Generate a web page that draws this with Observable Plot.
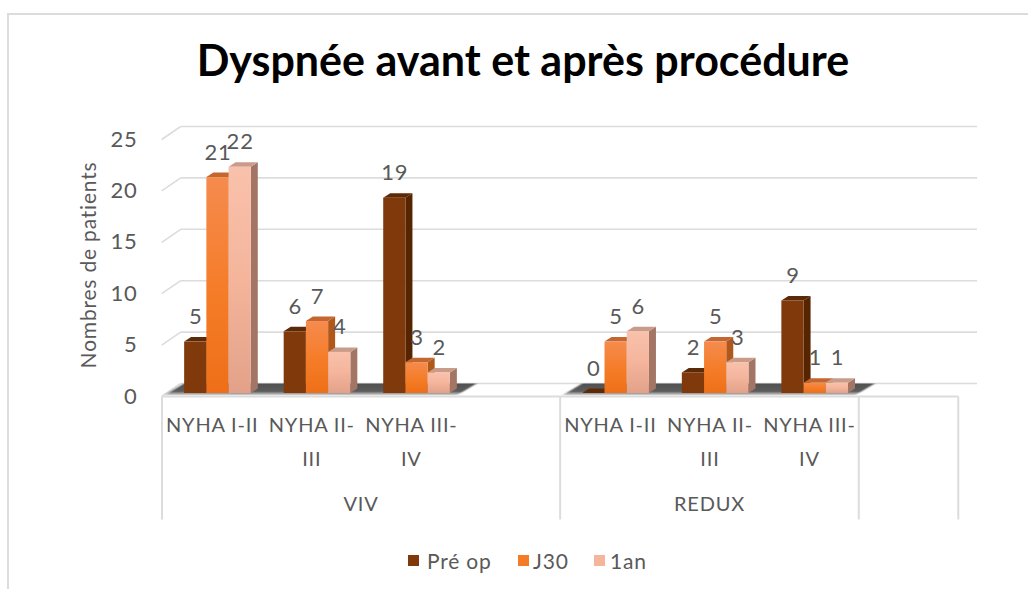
<!DOCTYPE html>
<html><head><meta charset="utf-8">
<script src="https://cdn.jsdelivr.net/npm/d3@7"></script>
<script src="https://cdn.jsdelivr.net/npm/@observablehq/plot@0.6"></script>
<style>
html,body{margin:0;padding:0;background:#fff;overflow:hidden}
#page{position:relative;width:1028px;height:589px;font-family:Lato,sans-serif}
#border{position:absolute;left:7px;top:13px;right:-10px;bottom:-10px;border:2px solid #dcdcdc}
#title{position:relative;height:100px;line-height:120px;text-align:center;font-weight:700;font-size:43px;color:#000;width:1046px;white-space:nowrap}
#chart{position:relative;height:430px}
#chart svg{display:block;overflow:visible}
#legend{position:relative;height:59px;color:#595959;font-size:21px;letter-spacing:.8px}
#legend span{position:absolute;top:20px;line-height:22px;white-space:pre}
#legend i{position:absolute;top:25px;width:11px;height:11px}
</style></head>
<body>
<svg width="0" height="0" style="position:absolute">
<defs>
<linearGradient id="g0" x1="0" y1="0" x2="0" y2="1"><stop offset="0" stop-color="#7f390b"/><stop offset="1" stop-color="#7f390b"/></linearGradient>
<linearGradient id="g1" x1="0" y1="0" x2="0" y2="1"><stop offset="0" stop-color="#f58b4e"/><stop offset=".55" stop-color="#f57c27"/><stop offset="1" stop-color="#ee6f18"/></linearGradient>
<linearGradient id="g2" x1="0" y1="0" x2="0" y2="1"><stop offset="0" stop-color="#f9c1ab"/><stop offset=".5" stop-color="#f4b59c"/><stop offset="1" stop-color="#e3a18a"/></linearGradient>
<linearGradient id="floorFill" x1="0" y1="0" x2="0" y2="1"><stop offset="0" stop-color="#4f4f4f"/><stop offset=".65" stop-color="#5c5c5c"/><stop offset="1" stop-color="#e4e4e4"/></linearGradient>
<filter id="soft" x="-5%" y="-30%" width="110%" height="160%"><feGaussianBlur stdDeviation="1.4 .6"/></filter>
</defs></svg>
<div id="page">
<div id="border"></div>
<div id="title"></div>
<div id="chart"></div>
<div id="legend"></div>
</div>
<script>
const titleText = "Dyspnée avant et après procédure";
const yTitle = "Nombres de patients";
const seriesNames = ["Pré op", "J30", "1an"];
const seriesFills = ["url(#g0)", "url(#g1)", "url(#g2)"];
const seriesSwatch = ["#7f390b", "#f57c27", "#f4b59c"];
const sideColors = ["#562500", "#b0571a", "#a37565"];
const topColors = ["#5c2a06", "#c4662f", "#c99c8a"];
const yTicks = [0, 5, 10, 15, 20, 25];
const slots = ["VIV-1","VIV-2","VIV-3","VIV-gap","REDUX-1","REDUX-2","REDUX-3","end-gap"];
const barSlots = ["VIV-1","VIV-2","VIV-3","REDUX-1","REDUX-2","REDUX-3"];
const slotLabels = ["NYHA I-II","NYHA II-\nIII","NYHA III-\nIV","NYHA I-II","NYHA II-\nIII","NYHA III-\nIV"];
const preOp = [5, 6, 19, 0, 2, 9];
const j30 = [21, 7, 3, 5, 5, 1];
const oneYear = [22, 4, 2, 6, 3, 1];
const groups = [
  {name: "VIV", from: "VIV-1", to: "VIV-gap", last: "VIV-3"},
  {name: "REDUX", from: "REDUX-1", to: "REDUX-3", last: "REDUX-3"}
];

document.getElementById("title").textContent = titleText;

const rows = barSlots.flatMap((slot, i) => [
  {slot, series: seriesNames[0], value: preOp[i]},
  {slot, series: seriesNames[1], value: j30[i]},
  {slot, series: seriesNames[2], value: oneYear[i]}
]);
const labelRows = barSlots.map((slot, i) => ({slot, label: slotLabels[i]}));
const firstSlot = () => slots[0];

const grey = "#dcdcdc", textGrey = "#595959", font = "Lato, sans-serif";
const NS = "http://www.w3.org/2000/svg";
function el(doc, name, attrs) {
  const n = doc.createElementNS(NS, name);
  for (const k in attrs) n.setAttribute(k, attrs[k]);
  return n;
}
const depth = {dx: 7, dy: 4.5};

function bars3d(index, scales, values, dims, context, next) {
  const g = next(index, scales, values, dims, context);
  const doc = context.document;
  const rects = [...g.querySelectorAll("rect")];
  rects.forEach((r, k) => {
    const i = seriesNames.indexOf(rows[index[k]].series);
    const x = +r.getAttribute("x"), y = +r.getAttribute("y");
    const w = +r.getAttribute("width"), h = +r.getAttribute("height");
    const side = `${x+w},${y} ${x+w+depth.dx},${y-depth.dy} ${x+w+depth.dx},${y+h-depth.dy} ${x+w},${y+h}`;
    const top = `${x},${y} ${x+depth.dx},${y-depth.dy} ${x+w+depth.dx},${y-depth.dy} ${x+w},${y}`;
    r.parentNode.insertBefore(el(doc, "polygon", {points: side, fill: sideColors[i]}), r);
    r.parentNode.insertBefore(el(doc, "polygon", {points: top, fill: topColors[i]}), r);
  });
  return g;
}

function wall(index, scales, values, dims, context, next) {
  const g = next(index, scales, values, dims, context);
  const doc = context.document;
  const full = scales.fx.bandwidth() * slots.length;
  for (const line of [...g.querySelectorAll("line")]) {
    const x = +line.getAttribute("x1"), y = +line.getAttribute("y1");
    line.setAttribute("x2", x + full);
    line.parentNode.appendChild(el(doc, "line", {x1: x - 19, y1: y + 13, x2: x, y2: y, stroke: grey, "stroke-width": 1.6}));
  }
  return g;
}

function furniture(index, scales, values, dims, context, next) {
  const g = next(index, scales, values, dims, context);
  const doc = context.document;
  const bw = scales.fx.bandwidth();
  const fx = scales.fx;
  const full = bw * slots.length;
  for (const line of [...g.querySelectorAll("line")]) {
    line.setAttribute("x2", +line.getAttribute("x1") + full);
  }
  const y0 = scales.y(0);
  const edges = [fx("VIV-1"), fx("REDUX-1"), fx("end-gap"), fx("end-gap") + bw];
  for (const x of edges) g.appendChild(el(doc, "line", {x1: x, x2: x, y1: y0, y2: y0 + 123, stroke: grey, "stroke-width": 2}));
  for (const gr of groups) {
    const a = fx(gr.from), b = fx(gr.to) + bw, l = fx(gr.last) + bw;
    const t = el(doc, "text", {x: (a + b) / 2, y: y0 + 114, "text-anchor": "middle", fill: textGrey, stroke: "none", "font-family": font, "font-size": 20});
    t.textContent = gr.name;
    g.appendChild(t);
    const pts = `${a + 22},${y0 - 13} ${l + 16},${y0 - 13} ${l - 4},${y0 - 1} ${a + 2},${y0 - 1}`;
    g.appendChild(el(doc, "polygon", {points: pts, fill: "url(#floorFill)", stroke: "none", filter: "url(#soft)"}));
  }
  return g;
}

const chart = Plot.plot({
  width: 1028, height: 430,
  marginLeft: 167.7, marginRight: 64, marginTop: 36, marginBottom: 137,
  style: {background: "transparent", fontFamily: font, overflow: "visible", letterSpacing: ".8px"},
  fx: {domain: slots, padding: 0, axis: null, round: false, label: null},
  x: {domain: seriesNames, axis: null, paddingInner: 0, paddingOuter: 0.74, round: false, label: null},
  y: {domain: [0, 25], axis: null, label: null},
  color: {domain: seriesNames, range: seriesFills},
  marks: [
    Plot.ruleY(yTicks, {fx: firstSlot, y: d => d, stroke: grey, strokeWidth: 1.6, dx: 13, dy: -10, render: wall}),
    Plot.ruleY([0], {fx: firstSlot, y: d => d, stroke: grey, strokeWidth: 2, dx: -5.7, dy: 3, render: furniture}),
    Plot.text(yTicks, {fx: firstSlot, y: d => d, text: d => String(d), frameAnchor: "left", textAnchor: "end", dx: -30.7, dy: 3, fontSize: 22, fill: textGrey}),
    Plot.text([yTitle], {fx: firstSlot, y: () => 12.5, text: d => d, frameAnchor: "left", textAnchor: "middle", rotate: -90, dx: -79, fontSize: 21, fill: textGrey}),
    Plot.barY(rows, {fx: "slot", x: "series", y: "value", fill: "series", render: bars3d}),
    Plot.text(rows, {fx: "slot", x: "series", y: "value", text: d => String(d.value), dy: -25, fontSize: 22, fill: textGrey}),
    Plot.text(labelRows, {fx: "slot", text: "label", frameAnchor: "bottom", lineAnchor: "top", dx: -5.7, dy: 14, lineHeight: 1.7, fontSize: 20, fill: textGrey})
  ]
});
document.getElementById("chart").appendChild(chart);

const legend = document.getElementById("legend");
const swatchX = [408, 518, 594], textX = [427, 533, 610];
seriesNames.forEach((name, i) => {
  const sw = document.createElement("i");
  sw.style.left = swatchX[i] + "px";
  sw.style.background = seriesSwatch[i];
  legend.appendChild(sw);
  const t = document.createElement("span");
  t.style.left = textX[i] + "px";
  t.textContent = name;
  legend.appendChild(t);
});
</script>
</body></html>
